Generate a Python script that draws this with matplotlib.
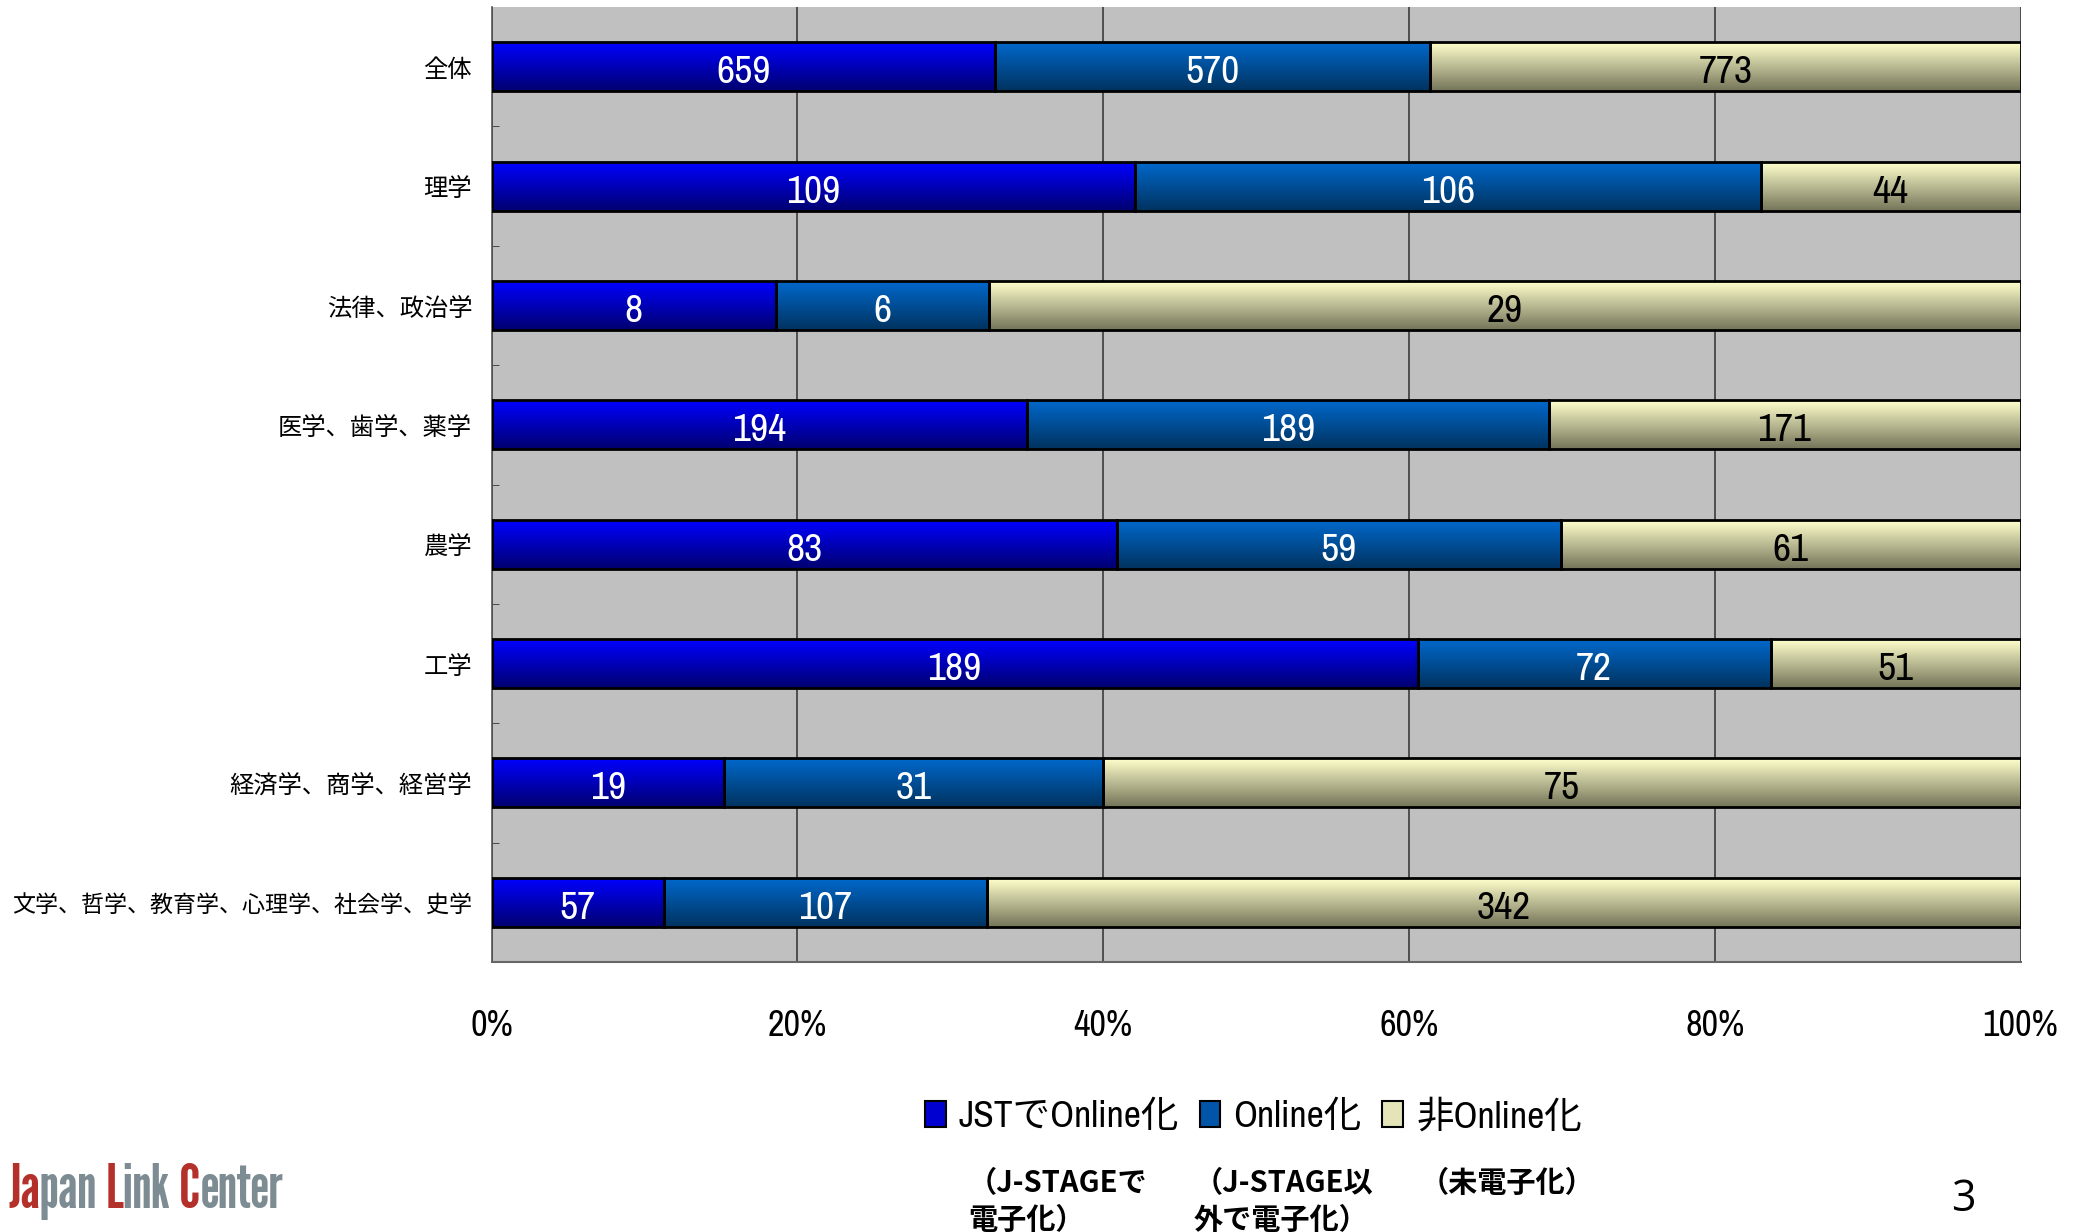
import numpy as np
import matplotlib
matplotlib.use("Agg")
import matplotlib.pyplot as plt
from matplotlib import font_manager
from matplotlib.colors import LinearSegmentedColormap
from matplotlib.patches import Rectangle

# ---------- data ----------
categories = ["全体", "理学", "法律、政治学", "医学、歯学、薬学", "農学", "工学",
              "経済学、商学、経営学", "文学、哲学、教育学、心理学、社会学、史学"]
jst_online = [659, 109, 8, 194, 83, 189, 19, 57]
other_online = [570, 106, 6, 189, 59, 72, 31, 107]
not_online = [773, 44, 29, 171, 61, 51, 75, 342]
series_names = ["JSTでOnline化", "Online化", "非Online化"]
series_notes = ["（J-STAGEで\n電子化）", "（J-STAGE以\n外で電子化）", "（未電子化）"]
xticks = [0, 20, 40, 60, 80, 100]
xtick_labels = ["0%", "20%", "40%", "60%", "80%", "100%"]

# gradient (top colour, bottom colour) per series
grads = [("#0000FF", "#000070"), ("#0068CC", "#00335F"), ("#FFFFCC", "#75755A")]
legend_cols = ["#0000D0", "#0055A8", "#E4E4B8"]
text_cols = ["white", "white", "black"]


def pick(names):
    for n in names:
        try:
            font_manager.findfont(n, fallback_to_default=False)
            return n
        except ValueError:
            pass
    return "DejaVu Sans"


JP = "Noto Sans CJK JP"
NARROW = pick(["Archivo Narrow", "Fira Sans Condensed", "Barlow Semi Condensed"])
LOGO = pick(["League Gothic", "Oswald", "Antonio", "Fira Sans Extra Condensed",
             "Barlow Condensed"])
plt.rcParams["font.family"] = [JP, "DejaVu Sans"]

W, H = 2083, 1232
fig = plt.figure(figsize=(W / 100, H / 100), dpi=100)
ax = fig.add_axes([491.5 / W, 1 - 962 / H, (2020.5 - 491.5) / W, (962 - 7) / H])
ax.set_facecolor("#C0C0C0")

n = len(categories)
y = np.arange(n)[::-1]
totals = np.array(jst_online) + np.array(other_online) + np.array(not_online)
bar_h = 0.41

left = np.zeros(n)
for k, vals in enumerate([jst_online, other_online, not_online]):
    vals = np.array(vals)
    pct = vals / totals * 100
    cm = LinearSegmentedColormap.from_list("g%d" % k, list(grads[k]))
    bars = ax.barh(y, pct, left=left, height=bar_h, facecolor="none",
                   edgecolor="black", linewidth=2.0, zorder=3)
    for rect, v in zip(bars, vals):
        x0, y0 = rect.get_x(), rect.get_y()
        w, h = rect.get_width(), rect.get_height()
        im = ax.imshow(np.linspace(0, 1, 64).reshape(-1, 1), cmap=cm,
                       extent=(x0, x0 + w, y0, y0 + h), origin="upper",
                       aspect="auto", interpolation="bilinear", zorder=2)
        im.set_clip_path(rect)
        ax.text(x0 + w / 2, y0 + h / 2 - 0.05, str(v), ha="center", va="center",
                color=text_cols[k], fontsize=28.5, family=[NARROW, JP], zorder=4)
    left = left + pct

ax.set_xlim(0, 100)
ax.set_ylim(-0.5, n - 0.5)
ax.set_xticks(xticks)
ax.set_xticklabels(xtick_labels, family=[NARROW, JP], fontsize=26)
ax.tick_params(axis="x", length=0, pad=34)
ax.set_yticks(y)
ax.set_yticklabels(categories, fontsize=17.5)
ax.get_yticklabels()[-1].set_fontsize(16.6)  # longest label, keep inside the figure
ax.tick_params(axis="y", which="major", length=0, pad=14)
ax.set_yticks(np.arange(n - 1) + 0.5, minor=True)
ax.tick_params(axis="y", which="minor", length=5, direction="in", color="#333333")
ax.xaxis.grid(True, color="#303030", linewidth=1.1)
ax.set_axisbelow(True)
ax.spines["top"].set_visible(False)
ax.spines["right"].set_visible(False)
ax.spines["left"].set_color("#555555")
ax.spines["bottom"].set_color("#666666")
ax.spines["left"].set_linewidth(1.2)
ax.spines["bottom"].set_linewidth(1.5)

# ---------- legend ----------
handles = [Rectangle((0, 0), 1, 1, facecolor=c, edgecolor="black", linewidth=1.5)
           for c in legend_cols]
fig.legend(handles, series_names, loc="center left",
           bbox_to_anchor=(925 / W, 1 - 1116 / H), ncol=3, frameon=False,
           prop={"family": [NARROW, JP], "size": 27},
           handlelength=0.55, handleheight=0.7, handletextpad=0.35,
           columnspacing=0.55, borderpad=0, borderaxespad=0)

for xn, note in zip([968, 1194, 1420], series_notes):
    fig.text(xn / W, 1 - 1168 / H, note, ha="left", va="top", fontsize=21,
             fontweight="bold", linespacing=1.3, family=[JP, "DejaVu Sans"])

# ---------- logo & page number ----------
logo_parts = [("Ja", "#B3302B"), ("pan ", "#7D8B93"), ("L", "#B3302B"),
              ("ink ", "#7D8B93"), ("C", "#B3302B"), ("enter", "#7D8B93")]
renderer = fig.canvas.get_renderer()
probe = fig.text(0, 0, "".join(s for s, _ in logo_parts), fontsize=40,
                 family=LOGO, fontweight="bold")
logo_fs = 40 * 275 / probe.get_window_extent(renderer).width
probe.remove()

prev = fig.text(8 / W, 1 - 1208 / H, logo_parts[0][0], color=logo_parts[0][1],
                fontsize=logo_fs, family=LOGO, fontweight="bold", va="baseline")
for s, c in logo_parts[1:]:
    prev = ax.annotate(s, xy=(1, 0), xycoords=prev, xytext=(0, 0),
                       textcoords="offset points", color=c, fontsize=logo_fs,
                       family=LOGO, fontweight="bold", va="bottom",
                       annotation_clip=False)

fig.text(1963 / W, 1 - 1200 / H, "3", ha="center", va="center", fontsize=31,
         family=["Open Sans", "DejaVu Sans"])

fig.savefig("out.png", dpi=100)
